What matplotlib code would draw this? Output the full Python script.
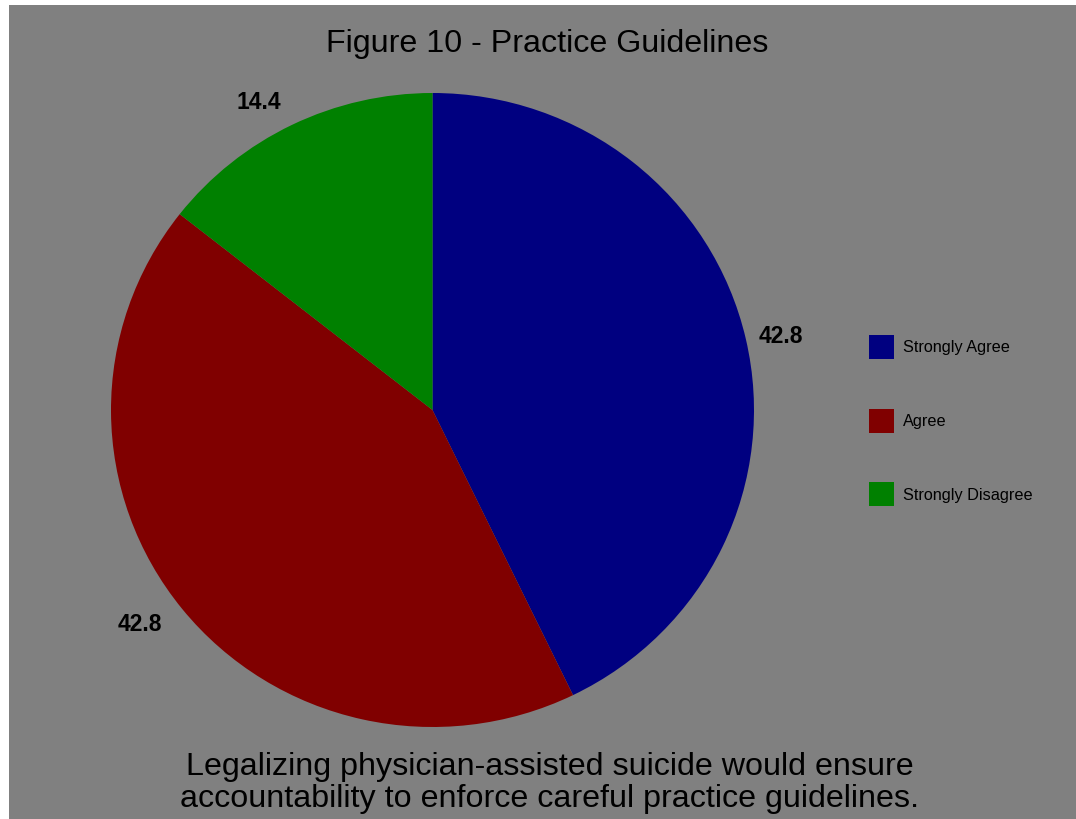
import matplotlib
matplotlib.use("Agg")
import numpy as np
import matplotlib.pyplot as plt
from matplotlib.patches import Rectangle, Patch

plt.rcParams['font.family'] = ['Liberation Sans', 'DejaVu Sans']

# data
categories = ['Strongly Agree', 'Agree', 'Strongly Disagree']
values = [42.8, 42.8, 14.4]
colors = ['#000080', '#800000', '#008000']
label_dist = [1.04, 1.08, 1.08]
title = 'Figure 10 - Practice Guidelines'
caption_lines = ['Legalizing physician-assisted suicide would ensure',
                 'accountability to enforce careful practice guidelines.']

fig = plt.figure(figsize=(10.76, 8.19), dpi=100)
fig.patch.set_facecolor('white')
# gray panel, thin white strip on top and left like the original
fig.patches.append(Rectangle((9 / 1076, 0), 1, 814 / 819, transform=fig.transFigure,
                             facecolor='#808080', edgecolor='none', zorder=-5))

ax = fig.add_axes([111 / 1076, 92 / 819, 643 / 1076, 634 / 819])
wedges, texts = ax.pie(values, colors=colors, startangle=90, counterclock=False,
                       labels=[f'{v:.1f}' for v in values], labeldistance=1.05,
                       wedgeprops=dict(linewidth=0),
                       textprops=dict(fontsize=16.5, fontweight='bold', color='black'))
# push each value label out along its wedge's middle angle
for w, t, d in zip(wedges, texts, label_dist):
    ang = np.deg2rad((w.theta1 + w.theta2) / 2)
    t.set_position((d * np.cos(ang), d * np.sin(ang)))
ax.set_aspect('auto')
ax.set_xlim(-1, 1)
ax.set_ylim(-1, 1)
ax.axis('off')

fig.text(547 / 1076, 1 - 52 / 819, title, ha='center', va='baseline', fontsize=23.2)
for i, line in enumerate(caption_lines):
    fig.text(550 / 1076, 1 - (775 + 32 * i) / 819, line, ha='center', va='baseline',
             fontsize=23.2)

handles = [Patch(facecolor=c, edgecolor='none') for c in colors]
fig.legend(handles, categories, loc='upper left', bbox_to_anchor=(854 / 1076, 1 - 320.5 / 819),
           frameon=False, fontsize=11.7, labelspacing=3.05, handlelength=1.54, handleheight=1.9,
           handletextpad=0.55)

fig.savefig('out.png', dpi=100, facecolor=fig.get_facecolor())
